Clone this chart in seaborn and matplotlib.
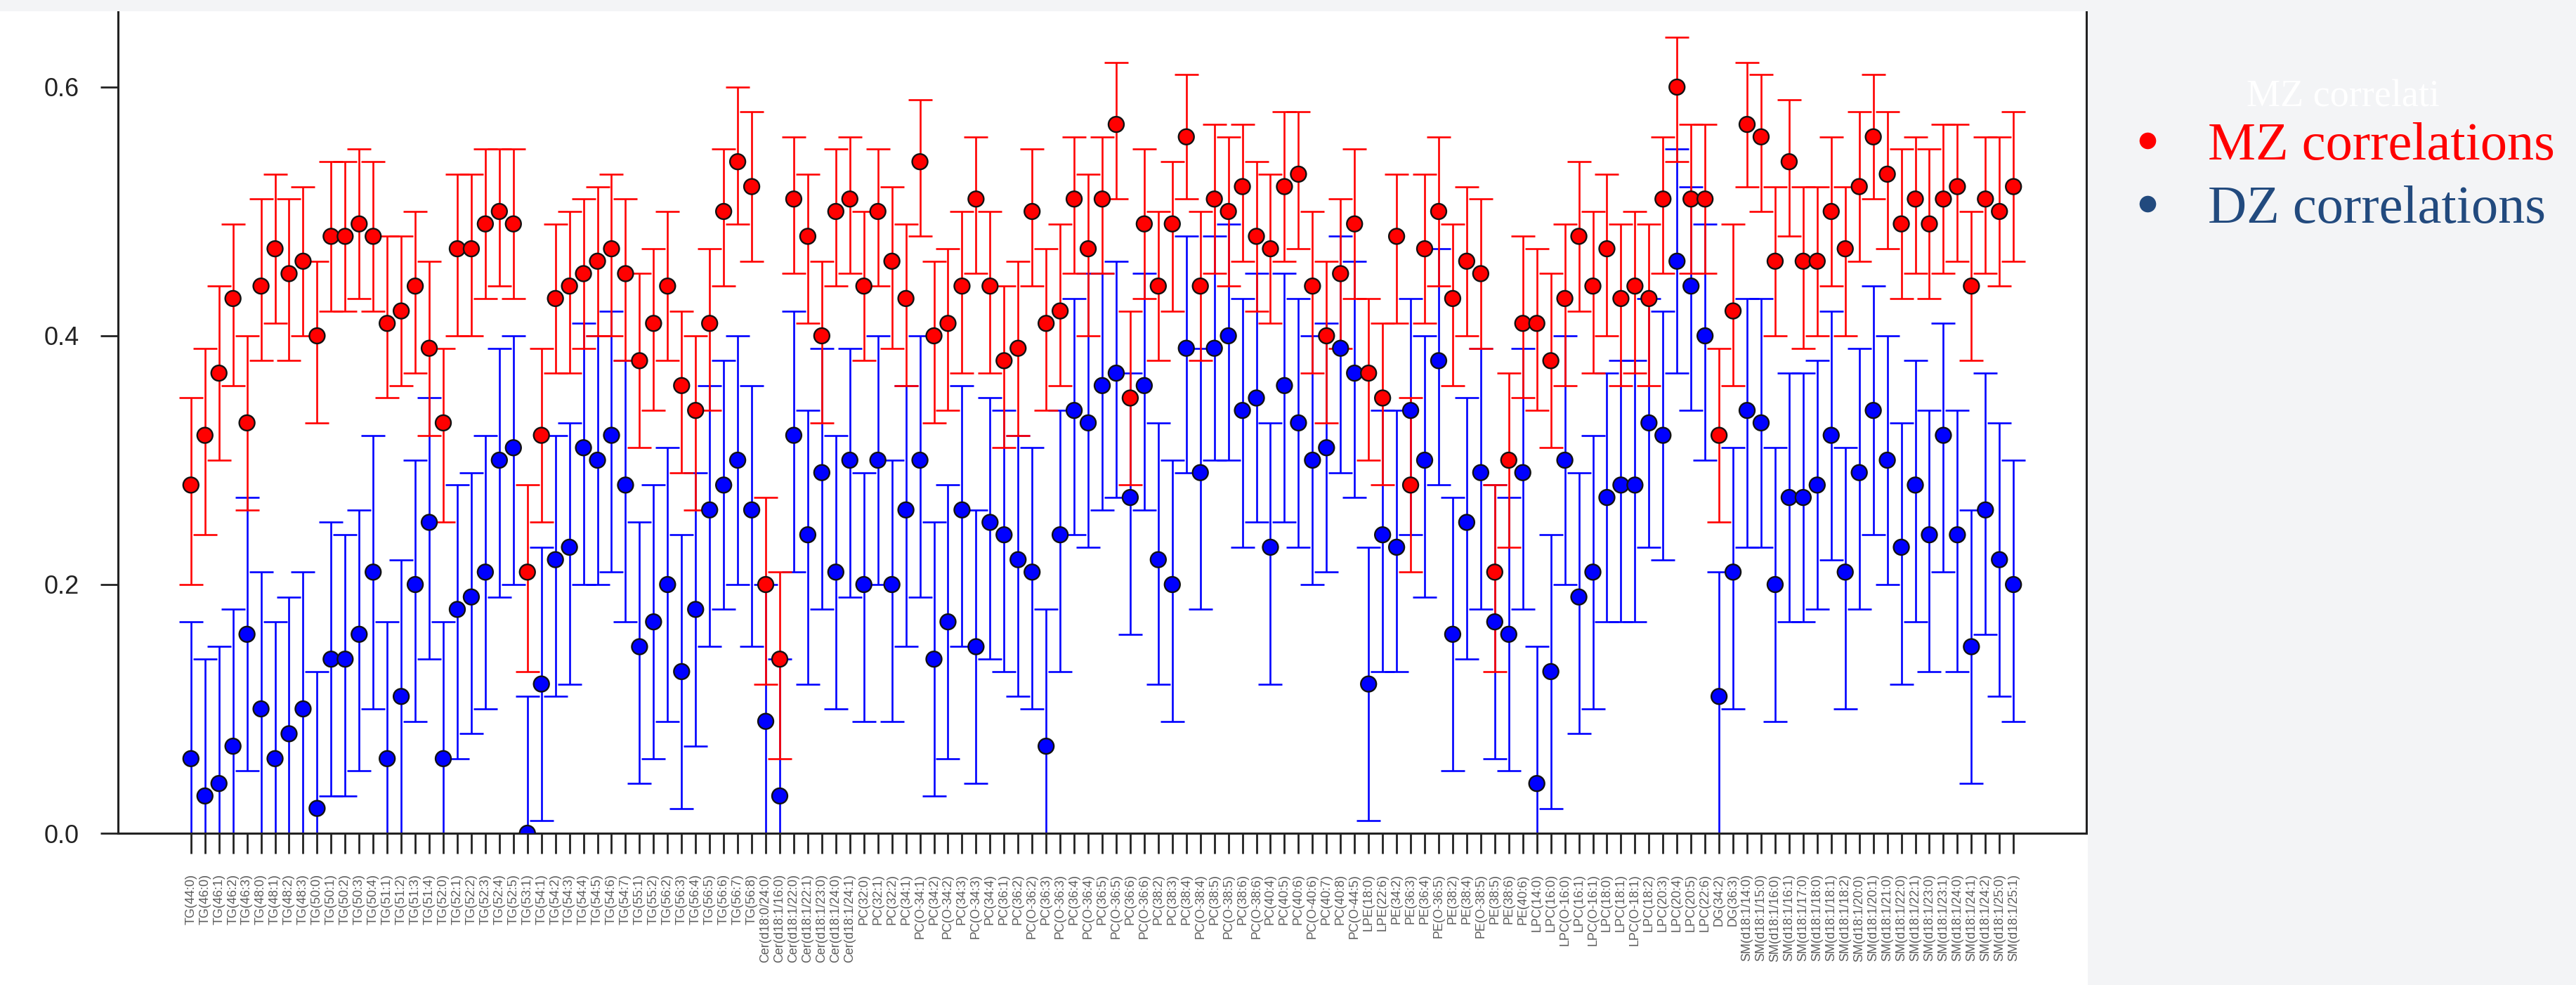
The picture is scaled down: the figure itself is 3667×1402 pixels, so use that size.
import numpy as np
import pandas as pd
import seaborn as sns
import matplotlib.pyplot as plt
from matplotlib.patches import Rectangle
from matplotlib.lines import Line2D

# traits on the x axis
labels = [
    "TG(44:0)", "TG(46:0)", "TG(46:1)", "TG(46:2)", "TG(46:3)", "TG(48:0)", "TG(48:1)", "TG(48:2)",
    "TG(48:3)", "TG(50:0)", "TG(50:1)", "TG(50:2)", "TG(50:3)", "TG(50:4)", "TG(51:1)", "TG(51:2)",
    "TG(51:3)", "TG(51:4)", "TG(52:0)", "TG(52:1)", "TG(52:2)", "TG(52:3)", "TG(52:4)", "TG(52:5)",
    "TG(53:1)", "TG(54:1)", "TG(54:2)", "TG(54:3)", "TG(54:4)", "TG(54:5)", "TG(54:6)", "TG(54:7)",
    "TG(55:1)", "TG(55:2)", "TG(56:2)", "TG(56:3)", "TG(56:4)", "TG(56:5)", "TG(56:6)", "TG(56:7)",
    "TG(56:8)",
    "Cer(d18:0/24:0)", "Cer(d18:1/16:0)", "Cer(d18:1/22:0)", "Cer(d18:1/22:1)", "Cer(d18:1/23:0)",
    "Cer(d18:1/24:0)", "Cer(d18:1/24:1)",
    "PC(32:0)", "PC(32:1)", "PC(32:2)", "PC(34:1)", "PC(O-34:1)", "PC(34:2)", "PC(O-34:2)", "PC(34:3)",
    "PC(O-34:3)", "PC(34:4)", "PC(36:1)", "PC(36:2)", "PC(O-36:2)", "PC(36:3)", "PC(O-36:3)", "PC(36:4)",
    "PC(O-36:4)", "PC(36:5)", "PC(O-36:5)", "PC(36:6)", "PC(O-36:6)", "PC(38:2)", "PC(38:3)", "PC(38:4)",
    "PC(O-38:4)", "PC(38:5)", "PC(O-38:5)", "PC(38:6)", "PC(O-38:6)", "PC(40:4)", "PC(40:5)", "PC(40:6)",
    "PC(O-40:6)", "PC(40:7)", "PC(40:8)", "PC(O-44:5)",
    "LPE(18:0)", "LPE(22:6)",
    "PE(34:2)", "PE(36:3)", "PE(36:4)", "PE(O-36:5)", "PE(38:2)", "PE(38:4)", "PE(O-38:5)", "PE(38:5)",
    "PE(38:6)", "PE(40:6)",
    "LPC(14:0)", "LPC(16:0)", "LPC(O-16:0)", "LPC(16:1)", "LPC(O-16:1)", "LPC(18:0)", "LPC(18:1)",
    "LPC(O-18:1)", "LPC(18:2)", "LPC(20:3)", "LPC(20:4)", "LPC(20:5)", "LPC(22:6)",
    "DG(34:2)", "DG(36:3)",
    "SM(d18:1/14:0)", "SM(d18:1/15:0)", "SM(d18:1/16:0)", "SM(d18:1/16:1)", "SM(d18:1/17:0)",
    "SM(d18:1/18:0)", "SM(d18:1/18:1)", "SM(d18:1/18:2)", "SM(d18:1/20:0)", "SM(d18:1/20:1)",
    "SM(d18:1/21:0)", "SM(d18:1/22:0)", "SM(d18:1/22:1)", "SM(d18:1/23:0)", "SM(d18:1/23:1)",
    "SM(d18:1/24:0)", "SM(d18:1/24:1)", "SM(d18:1/24:2)", "SM(d18:1/25:0)", "SM(d18:1/25:1)",
]

# MZ twin correlations with 95% CI
mz = [0.28, 0.32, 0.37, 0.43, 0.33, 0.44, 0.47, 0.45, 0.46, 0.40, 0.48, 0.48, 0.49, 0.48, 0.41, 0.42,
      0.44, 0.39, 0.33, 0.47, 0.47, 0.49, 0.50, 0.49, 0.21, 0.32, 0.43, 0.44, 0.45, 0.46, 0.47, 0.45,
      0.38, 0.41, 0.44, 0.36, 0.34, 0.41, 0.50, 0.54, 0.52, 0.20, 0.14, 0.51, 0.48, 0.40, 0.50, 0.51,
      0.44, 0.50, 0.46, 0.43, 0.54, 0.40, 0.41, 0.44, 0.51, 0.44, 0.38, 0.39, 0.50, 0.41, 0.42, 0.51,
      0.47, 0.51, 0.57, 0.35, 0.49, 0.44, 0.49, 0.56, 0.44, 0.51, 0.50, 0.52, 0.48, 0.47, 0.52, 0.53,
      0.44, 0.40, 0.45, 0.49, 0.37, 0.35, 0.48, 0.28, 0.47, 0.50, 0.43, 0.46, 0.45, 0.21, 0.30, 0.41,
      0.41, 0.38, 0.43, 0.48, 0.44, 0.47, 0.43, 0.44, 0.43, 0.51, 0.60, 0.51, 0.51, 0.32, 0.42, 0.57,
      0.56, 0.46, 0.54, 0.46, 0.46, 0.50, 0.47, 0.52, 0.56, 0.53, 0.49, 0.51, 0.49, 0.51, 0.52, 0.44,
      0.51, 0.50, 0.52]
mz_lo = [0.20, 0.24, 0.30, 0.36, 0.26, 0.38, 0.41, 0.38, 0.40, 0.33, 0.42, 0.42, 0.43, 0.42, 0.35, 0.36,
         0.37, 0.32, 0.25, 0.40, 0.40, 0.43, 0.44, 0.43, 0.13, 0.25, 0.37, 0.37, 0.39, 0.40, 0.40, 0.38,
         0.31, 0.34, 0.38, 0.29, 0.26, 0.34, 0.44, 0.49, 0.46, 0.12, 0.06, 0.45, 0.41, 0.33, 0.44, 0.45,
         0.38, 0.44, 0.39, 0.36, 0.48, 0.33, 0.34, 0.37, 0.45, 0.37, 0.31, 0.32, 0.44, 0.34, 0.36, 0.45,
         0.40, 0.45, 0.51, 0.28, 0.43, 0.38, 0.42, 0.51, 0.38, 0.45, 0.44, 0.46, 0.42, 0.41, 0.46, 0.47,
         0.37, 0.33, 0.39, 0.43, 0.30, 0.28, 0.41, 0.21, 0.41, 0.44, 0.36, 0.40, 0.39, 0.13, 0.23, 0.35,
         0.34, 0.31, 0.36, 0.42, 0.37, 0.40, 0.36, 0.37, 0.36, 0.45, 0.54, 0.45, 0.45, 0.25, 0.36, 0.52,
         0.50, 0.40, 0.48, 0.39, 0.40, 0.44, 0.40, 0.46, 0.51, 0.47, 0.43, 0.45, 0.43, 0.45, 0.46, 0.38,
         0.45, 0.44, 0.46]
mz_hi = [0.35, 0.39, 0.44, 0.49, 0.40, 0.51, 0.53, 0.51, 0.52, 0.46, 0.54, 0.54, 0.55, 0.54, 0.48, 0.48,
         0.50, 0.46, 0.39, 0.53, 0.53, 0.55, 0.55, 0.55, 0.28, 0.39, 0.49, 0.50, 0.51, 0.52, 0.53, 0.51,
         0.45, 0.47, 0.50, 0.42, 0.40, 0.47, 0.55, 0.60, 0.58, 0.27, 0.21, 0.56, 0.53, 0.46, 0.55, 0.56,
         0.50, 0.55, 0.52, 0.49, 0.59, 0.46, 0.47, 0.50, 0.56, 0.50, 0.44, 0.46, 0.55, 0.47, 0.49, 0.56,
         0.53, 0.56, 0.62, 0.42, 0.55, 0.50, 0.54, 0.61, 0.50, 0.57, 0.56, 0.57, 0.54, 0.53, 0.58, 0.58,
         0.50, 0.46, 0.51, 0.55, 0.43, 0.41, 0.53, 0.35, 0.53, 0.56, 0.49, 0.52, 0.51, 0.28, 0.37, 0.48,
         0.47, 0.45, 0.49, 0.54, 0.50, 0.53, 0.49, 0.50, 0.49, 0.56, 0.64, 0.57, 0.57, 0.39, 0.49, 0.62,
         0.61, 0.52, 0.59, 0.52, 0.52, 0.56, 0.52, 0.58, 0.61, 0.58, 0.55, 0.56, 0.55, 0.57, 0.57, 0.50,
         0.56, 0.56, 0.58]

# DZ twin correlations with 95% CI
dz = [0.06, 0.03, 0.04, 0.07, 0.16, 0.10, 0.06, 0.08, 0.10, 0.02, 0.14, 0.14, 0.16, 0.21, 0.06, 0.11,
      0.20, 0.25, 0.06, 0.18, 0.19, 0.21, 0.30, 0.31, 0.00, 0.12, 0.22, 0.23, 0.31, 0.30, 0.32, 0.28,
      0.15, 0.17, 0.20, 0.13, 0.18, 0.26, 0.28, 0.30, 0.26, 0.09, 0.03, 0.32, 0.24, 0.29, 0.21, 0.30,
      0.20, 0.30, 0.20, 0.26, 0.30, 0.14, 0.17, 0.26, 0.15, 0.25, 0.24, 0.22, 0.21, 0.07, 0.24, 0.34,
      0.33, 0.36, 0.37, 0.27, 0.36, 0.22, 0.20, 0.39, 0.29, 0.39, 0.40, 0.34, 0.35, 0.23, 0.36, 0.33,
      0.30, 0.31, 0.39, 0.37, 0.12, 0.24, 0.23, 0.34, 0.30, 0.38, 0.16, 0.25, 0.29, 0.17, 0.16, 0.29,
      0.04, 0.13, 0.30, 0.19, 0.21, 0.27, 0.28, 0.28, 0.33, 0.32, 0.46, 0.44, 0.40, 0.11, 0.21, 0.34,
      0.33, 0.20, 0.27, 0.27, 0.28, 0.32, 0.21, 0.29, 0.34, 0.30, 0.23, 0.28, 0.24, 0.32, 0.24, 0.15,
      0.26, 0.22, 0.20]
dz_lo = [-0.05, -0.08, -0.07, -0.04, 0.05, -0.01, -0.05, -0.03, -0.01, -0.09, 0.03, 0.03, 0.05, 0.10, -0.05, -0.01,
         0.09, 0.14, -0.05, 0.06, 0.08, 0.10, 0.19, 0.20, -0.11, 0.01, 0.11, 0.12, 0.20, 0.20, 0.21, 0.17,
         0.04, 0.06, 0.09, 0.02, 0.07, 0.15, 0.18, 0.20, 0.15, -0.02, -0.08, 0.21, 0.12, 0.18, 0.10, 0.19,
         0.09, 0.20, 0.09, 0.15, 0.19, 0.03, 0.06, 0.15, 0.04, 0.14, 0.13, 0.11, 0.10, -0.04, 0.13, 0.24,
         0.23, 0.26, 0.27, 0.16, 0.26, 0.12, 0.09, 0.29, 0.18, 0.30, 0.30, 0.23, 0.25, 0.12, 0.25, 0.23,
         0.20, 0.21, 0.29, 0.27, 0.01, 0.13, 0.13, 0.24, 0.19, 0.28, 0.05, 0.14, 0.18, 0.06, 0.05, 0.18,
         -0.07, 0.02, 0.20, 0.08, 0.10, 0.17, 0.17, 0.17, 0.23, 0.22, 0.37, 0.34, 0.30, -0.01, 0.10, 0.23,
         0.23, 0.09, 0.17, 0.17, 0.18, 0.22, 0.10, 0.18, 0.24, 0.20, 0.12, 0.17, 0.13, 0.21, 0.13, 0.04,
         0.16, 0.11, 0.09]
dz_hi = [0.17, 0.14, 0.15, 0.18, 0.27, 0.21, 0.17, 0.19, 0.21, 0.13, 0.25, 0.24, 0.26, 0.32, 0.17, 0.22,
         0.30, 0.35, 0.17, 0.28, 0.29, 0.32, 0.39, 0.40, 0.11, 0.23, 0.32, 0.33, 0.41, 0.40, 0.42, 0.38,
         0.25, 0.28, 0.31, 0.24, 0.29, 0.36, 0.38, 0.40, 0.36, 0.20, 0.14, 0.42, 0.34, 0.39, 0.32, 0.39,
         0.29, 0.40, 0.30, 0.36, 0.40, 0.25, 0.28, 0.36, 0.26, 0.35, 0.34, 0.32, 0.31, 0.18, 0.34, 0.43,
         0.45, 0.45, 0.46, 0.37, 0.45, 0.33, 0.30, 0.48, 0.39, 0.48, 0.49, 0.43, 0.45, 0.33, 0.45, 0.43,
         0.40, 0.41, 0.48, 0.46, 0.23, 0.34, 0.34, 0.43, 0.40, 0.47, 0.27, 0.35, 0.39, 0.28, 0.27, 0.39,
         0.15, 0.24, 0.40, 0.29, 0.32, 0.37, 0.38, 0.38, 0.43, 0.42, 0.55, 0.52, 0.49, 0.21, 0.31, 0.43,
         0.43, 0.31, 0.37, 0.37, 0.38, 0.42, 0.31, 0.39, 0.44, 0.40, 0.33, 0.38, 0.34, 0.41, 0.34, 0.26,
         0.37, 0.33, 0.30]

sns.set_theme(style='white')
plt.rcParams['font.family'] = ['Liberation Sans', 'DejaVu Sans']

df = pd.DataFrame({'pos': np.arange(len(labels)), 'trait': labels, 'DZ': dz, 'MZ': mz})
long_df = df.melt(id_vars=['pos', 'trait'], value_vars=['DZ', 'MZ'], var_name='twin', value_name='r')

W, H = 3667, 1402
fig = plt.figure(figsize=(W / 100, H / 100), dpi=100)
fig.patch.set_facecolor('white')

# slide background on the right and at the top
fig.patches.append(Rectangle((2972 / W, 0), 1, 1, transform=fig.transFigure,
                             facecolor='#F3F4F6', edgecolor='none', zorder=0))
fig.patches.append(Rectangle((0, 1 - 16 / H), 1, 1, transform=fig.transFigure,
                             facecolor='#F3F4F6', edgecolor='none', zorder=0))

ax = fig.add_axes([168 / W, (H - 1186) / H, 2802 / W, (1186 - 16) / H])
ax.set_facecolor('white')

dz_a, mz_a = np.array(dz), np.array(mz)
ax.errorbar(df['pos'], dz_a, yerr=[dz_a - np.array(dz_lo), np.array(dz_hi) - dz_a], fmt='none',
            ecolor='#0000FF', elinewidth=1.9, capsize=12, capthick=1.9, zorder=2)
ax.errorbar(df['pos'], mz_a, yerr=[mz_a - np.array(mz_lo), np.array(mz_hi) - mz_a], fmt='none',
            ecolor='#FF0000', elinewidth=1.9, capsize=12, capthick=1.9, zorder=3)
sns.scatterplot(data=long_df, x='pos', y='r', hue='twin', palette={'MZ': '#FF0000', 'DZ': '#0000FF'},
                s=250, edgecolor='#111111', linewidth=1.7, legend=False, ax=ax, zorder=4)

ax.set_xlim(-5.2, 135.2)
ax.set_ylim(0, 0.661)
ax.set_xlabel('')
ax.set_ylabel('')
ax.set_xticks(df['pos'])
ax.set_xticklabels(labels, rotation=90, fontsize=13, color='#5A5A5A')
ax.set_yticks([0, 0.2, 0.4, 0.6])
ax.set_yticklabels(['0.0', '0.2', '0.4', '0.6'], fontsize=26, color='#222222')
ax.tick_params(axis='x', bottom=True, length=21, width=2, pad=21, color='#222222')
ax.tick_params(axis='y', left=True, length=18, width=2, pad=22, color='#222222')
for side in ['left', 'bottom', 'right']:
    ax.spines[side].set_linewidth(2.2)
    ax.spines[side].set_color('#222222')
ax.spines['top'].set_visible(False)

# legend text on the slide
fig.text(3198 / W, 1 - 151 / H, 'MZ correlati', color='white', fontsize=39, family='Liberation Serif')
fig.text(3143 / W, 1 - 227 / H, 'MZ correlations', color='#FF0000', fontsize=55, family='Liberation Serif')
fig.text(3143 / W, 1 - 317 / H, 'DZ correlations', color='#224A7E', fontsize=55, family='Liberation Serif')
fig.add_artist(Line2D([3057 / W], [1 - 200 / H], marker='o', ms=17, color='#FF0000', mec='none',
                      transform=fig.transFigure))
fig.add_artist(Line2D([3057 / W], [1 - 290 / H], marker='o', ms=17, color='#224A7E', mec='none',
                      transform=fig.transFigure))

fig.savefig('out.png', dpi=100)
